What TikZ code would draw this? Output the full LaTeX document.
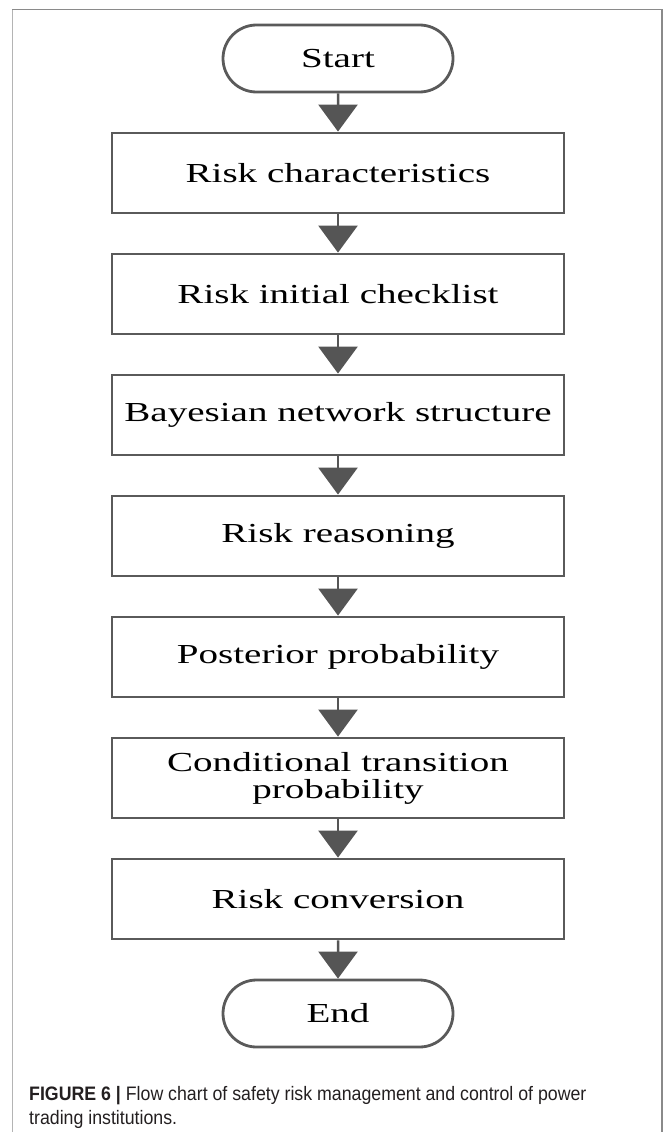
\documentclass[tikz,border=0pt]{standalone}
\usepackage{fontspec}
\setmainfont{Liberation Serif}
\newfontfamily\boxfont[FakeStretch=1.42]{Liberation Serif}
\newfontfamily\capfont[FakeStretch=0.91]{Liberation Sans}
\usetikzlibrary{arrows.meta,shapes.misc}
\definecolor{edgegray}{HTML}{5A5A5A}
\definecolor{tipgray}{HTML}{555555}
\definecolor{framegray}{HTML}{8A8A8A}
\definecolor{frameleft}{HTML}{B4B4B4}
\definecolor{captext}{HTML}{231F20}

\begin{document}
\begin{tikzpicture}[x=1pt,y=-1pt,
  stepbox/.style={draw=edgegray, line width=2.8pt, minimum width=452pt,
    minimum height=80pt, inner sep=0pt, align=center,
    font=\boxfont\fontsize{27.5}{27}\selectfont},
  terminal/.style={draw=edgegray, line width=2.8pt, rounded rectangle,
    minimum width=230pt, minimum height=67pt, inner sep=0pt,
    font=\boxfont\fontsize{27.5}{27}\selectfont},
  flow/.style={draw=tipgray, line width=2.5pt,
    -{Triangle[width=39pt,length=27pt]}},
  caption/.style={anchor=base west, inner sep=0pt, text=captext,
    font=\capfont\fontsize{19.5}{24}\selectfont}]

\useasboundingbox (0,0) rectangle (665,1132);

% page frame around figure and caption
\draw[frameleft, line width=1.5pt] (12.7,1132) -- (12.7,9.3);
\draw[framegray, line width=1.5pt] (12,9.3) -- (662,9.3) -- (662,1132);

% flow chart
\node[terminal] (start) at (338,58.5) {Start};
\node[stepbox] (s1) at (338,173) {Risk characteristics};
\node[stepbox] (s2) at (338,294) {Risk initial checklist};
\node[stepbox] (s3) at (338,415) {Bayesian network structure};
\node[stepbox] (s4) at (338,536) {Risk reasoning};
\node[stepbox] (s5) at (338,657) {Posterior probability};
\node[stepbox] (s6) at (338,778) {Conditional transition\\probability};
\node[stepbox] (s7) at (338,899) {Risk conversion};
\node[terminal] (end) at (338,1013.5) {End};

\draw[flow] (start) -- (s1);
\draw[flow] (s1) -- (s2);
\draw[flow] (s2) -- (s3);
\draw[flow] (s3) -- (s4);
\draw[flow] (s4) -- (s5);
\draw[flow] (s5) -- (s6);
\draw[flow] (s6) -- (s7);
\draw[flow] (s7) -- (end);

% caption
\node[caption] (cap1) at (29,1100) {{\bfseries FIGURE 6 |} Flow chart of safety risk management and control of power};
\node[caption] (cap2) at (29,1124) {trading institutions.};
\end{tikzpicture}
\end{document}
